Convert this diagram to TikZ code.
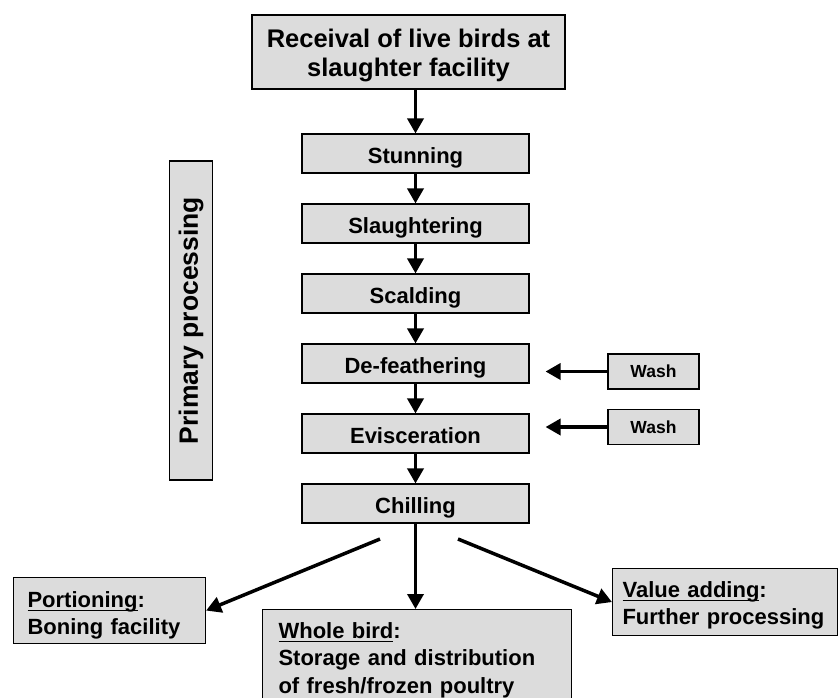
\documentclass[tikz,border=0pt]{standalone}
\usepackage{fontspec}
\setmainfont{Liberation Sans}
\usetikzlibrary{arrows.meta}
\definecolor{boxgray}{RGB}{220,220,220}
\newcommand{\tstrut}[1]{\rule{0pt}{#1}}
\newcommand{\bstrut}[1]{\rule[-#1]{0pt}{#1}}
\newcommand{\myul}[1]{\setbox0\hbox{#1}\rlap{\rule[-3.9pt]{\wd0}{1.3pt}}\box0}
\begin{document}
\begin{tikzpicture}[x=1pt,y=-1pt,
  box/.style={draw=black, line width=1.1pt, fill=boxgray, inner sep=0pt},
  stepbox/.style={box, minimum width=227pt, minimum height=39pt, text height=19pt, text depth=0pt, font=\fontsize{22}{26}\selectfont\bfseries},
  washbox/.style={box, minimum width=91pt, minimum height=35pt, font=\fontsize{17.5}{21}\selectfont\bfseries},
  outbox/.style={box, anchor=north west, align=left, inner ysep=0pt, font=\fontsize{22}{27.3}\selectfont\bfseries},
  arr/.style={line width=3.5pt, -{Triangle[width=16pt,length=15pt]}}
]
\useasboundingbox (0,0) rectangle (838,697);

\node[box, minimum width=313pt, minimum height=74pt, align=center,
      font=\fontsize{25.5}{29}\selectfont\bfseries] (recv) at (408.5,52)
      {\tstrut{25pt}Receival of live birds at\\slaughter facility\bstrut{6pt}};

\node[stepbox] (stun)    at (415.5,153.5) {Stunning};
\node[stepbox] (slaug)   at (415.5,223.5) {Slaughtering};
\node[stepbox] (scald)   at (415.5,293.5) {Scalding};
\node[stepbox] (defeath) at (415.5,363.5) {De-feathering};
\node[stepbox] (evisc)   at (415.5,433.5) {Evisceration};
\node[stepbox] (chill)   at (415.5,503.5) {Chilling};

\node[box, rotate=90, minimum width=319pt, minimum height=43pt,
      font=\fontsize{26.5}{30}\selectfont\bfseries] (primary) at (191,320.5)
      {Primary processing};

\node[washbox] (wash1) at (653.5,371.5) {Wash};
\node[washbox] (wash2) at (653.5,427) {Wash};

\node[outbox, inner xsep=14pt, text width=164pt, minimum height=66pt] (portion) at (13,577)
  {\tstrut{26pt}\myul{Portioning}:\\Boning facility\bstrut{5pt}};
\node[outbox, inner xsep=16pt, text width=277pt, minimum height=101.6pt] (whole) at (262,609)
  {\tstrut{16pt}\myul{Whole bird}:\\Storage and distribution\\of fresh/frozen poultry\bstrut{5pt}};
\node[outbox, inner xsep=10pt, text width=205pt, minimum height=67pt] (value) at (612,568)
  {\tstrut{22.3pt}\myul{Value adding}:\\Further processing\bstrut{5pt}};

\draw[arr] (stun.north |- recv.south) -- (stun.north);
\draw[arr] (stun) -- (slaug);
\draw[arr] (slaug) -- (scald);
\draw[arr] (scald) -- (defeath);
\draw[arr] (defeath) -- (evisc);
\draw[arr] (evisc) -- (chill);

\draw[arr, shorten >=16pt] (wash1.west) -- (wash1.west -| defeath.east);
\draw[arr, shorten >=16pt] (wash2.west) -- (wash2.west -| evisc.east);

\coordinate (dl) at (380,539);
\coordinate (dr) at (458,539);
\draw[arr] (dl) -- (portion.east);
\draw[arr] (chill.south) -- (chill.south |- whole.north);
\draw[arr] (dr) -- (value.west);
\end{tikzpicture}
\end{document}
